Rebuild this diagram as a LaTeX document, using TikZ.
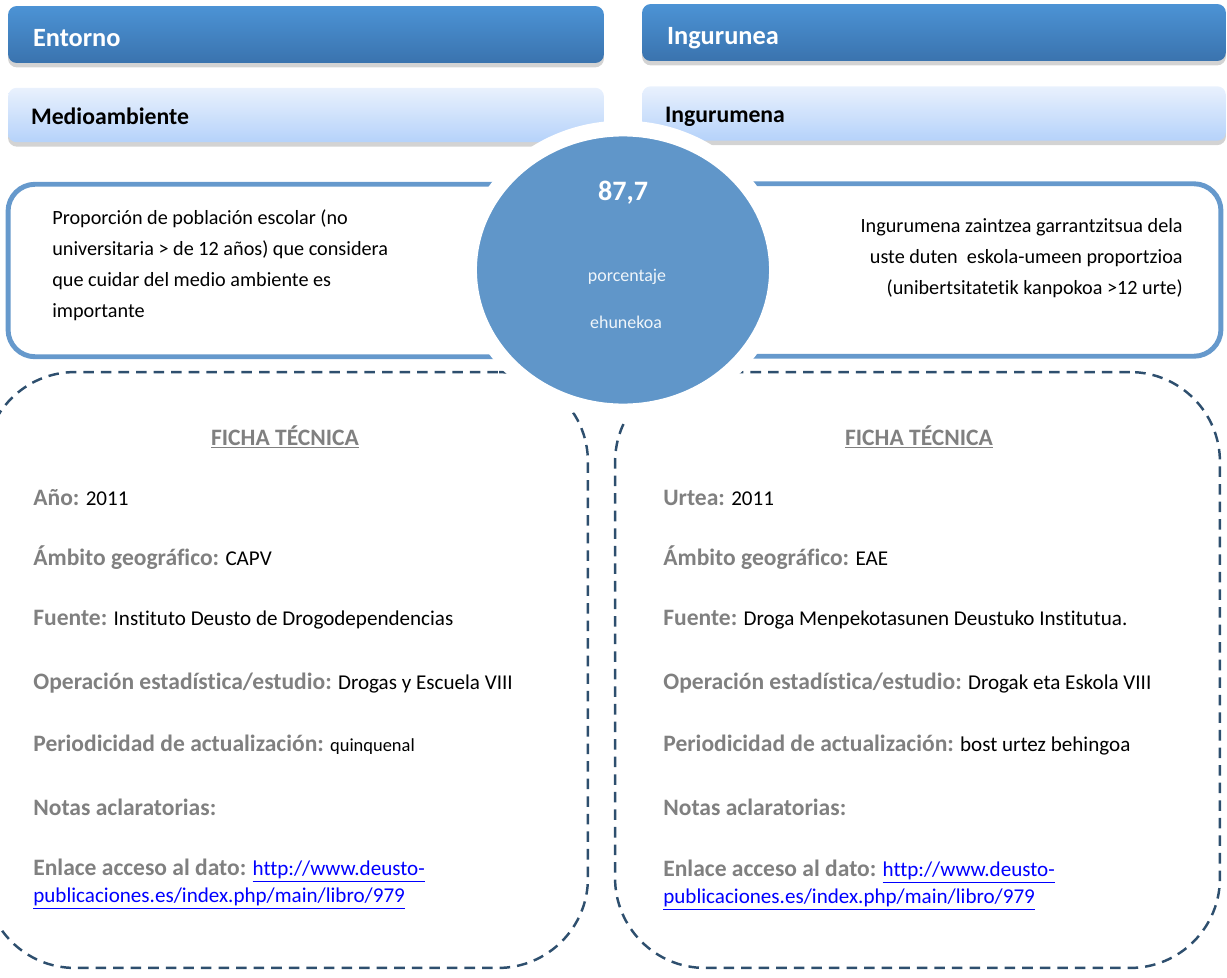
\documentclass[tikz,border=0pt]{standalone}
\usepackage{fontspec}
\setmainfont{Carlito}[Ligatures={NoCommon}, RawFeature={-liga;-clig;-calt;-dlig}]
\usetikzlibrary{shapes.geometric,shadows}

\definecolor{hdrtop}{RGB}{76,147,213}
\definecolor{hdrbot}{RGB}{58,115,174}
\definecolor{subtop}{RGB}{233,241,253}
\definecolor{subbot}{RGB}{181,210,250}
\definecolor{framblue}{RGB}{102,153,204}
\definecolor{circblue}{RGB}{96,150,201}
\definecolor{dashblue}{RGB}{46,79,110}
\definecolor{labgrey}{RGB}{128,128,128}
\definecolor{lnkblue}{RGB}{0,0,255}

\newcommand{\lab}[1]{{\bfseries\fontsize{13.4}{16}\selectfont\color{labgrey}#1}}
\newcommand{\lnk}[1]{\textcolor{lnkblue}{\underline{#1}}}

\begin{document}
\begin{tikzpicture}[x=0.02cm, y=-0.02cm,
    hdrbox/.style={rectangle, rounded corners=5pt, top color=hdrtop,
                   bottom color=hdrbot, minimum height=1.14cm,
                   inner xsep=0.5cm, align=left, text=white,
                   text height=14pt, text depth=0pt,
                   font=\bfseries\fontsize{15}{18}\selectfont,
                   drop shadow={shadow xshift=0pt, shadow yshift=-2.5pt, opacity=0.35}},
    subbox/.style={rectangle, rounded corners=5pt, top color=subtop,
                   bottom color=subbot, minimum height=1.09cm,
                   inner xsep=0.46cm, align=left, text=black,
                   text height=13.4pt, text depth=3pt,
                   font=\bfseries\fontsize{13.5}{16}\selectfont,
                   drop shadow={shadow xshift=0pt, shadow yshift=-2.5pt, opacity=0.35}},
    framebox/.style={rectangle, draw=framblue, line width=2.8pt,
                     rounded corners=0.54cm, fill=white, minimum height=3.45cm},
    dashbox/.style={rectangle, draw=dashblue, line width=1.4pt,
                    dash pattern=on 6pt off 4pt, rounded corners=1.8cm,
                    minimum height=11.92cm},
    desc/.style={inner sep=0, font=\fontsize{11.5}{17.6}\selectfont},
    fichaitem/.style={anchor=west, inner sep=0, font=\fontsize{12}{15.5}\selectfont}]

  \useasboundingbox (0,0) rectangle (1227,977);

  % cabeceras
  \node[hdrbox, text width=10.92cm] (entorno) at (306,34.5) {Entorno};
  \node[hdrbox, text width=10.68cm] (ingurunea) at (934,32.5) {Ingurunea};
  \node[subbox, text width=11.0cm] (medio) at (306,115) {Medioambiente};
  \node[subbox, text width=10.76cm] (ingurumena) at (934,113.5) {Ingurumena};

  % indicador
  \node[framebox, minimum width=11.84cm] (indL) at (304,270.5) {};
  \node[framebox, minimum width=11.62cm] (indR) at (930.5,270) {};
  \node[desc, anchor=west, align=left] (descL) at (52,265)
    {Proporción de población escolar (no\\
     universitaria > de 12 años) que considera\\
     que cuidar del medio ambiente es\\
     importante};
  \node[desc, anchor=east, align=right] (descR) at (1183,258)
    {Ingurumena zaintzea garrantzitsua dela\\
     uste duten\ \ eskola-umeen proportzioa\\
     (unibertsitatetik kanpokoa >12 urte)};

  % fichas
  \node[dashbox, minimum width=12.06cm] (fichaL) at (286.5,670) {};
  \node[dashbox, minimum width=12.1cm] (fichaR) at (917.5,670) {};

  % dato
  \node[ellipse, fill=circblue, draw=white, line width=9pt, inner sep=0,
        minimum width=6.16cm, minimum height=5.66cm] (dato) at (623,270) {};
  \node[text=white, font=\bfseries\fontsize{16}{19}\selectfont] (valor) at (623,193) {87,7};
  \node[text=white!90!circblue, font=\fontsize{10.2}{12}\selectfont] (unidadES) at (627,277) {porcentaje};
  \node[text=white!90!circblue, font=\fontsize{10.2}{12}\selectfont] (unidadEU) at (626,322) {ehunekoa};

  \node[inner sep=0] (tituloL) at (285,437) {\lab{\underline{FICHA TÉCNICA}}};
  \node[inner sep=0] (tituloR) at (919,437) {\lab{\underline{FICHA TÉCNICA}}};

  \foreach \y/\l/\v in {498/Año/2011, 558/Ámbito geográfico/CAPV,
      620/Fuente/Instituto Deusto de Drogodependencias,
      683/{Operación estadística/estudio}/Drogas y Escuela VIII,
      745/Periodicidad de actualización/{\fontsize{10.5}{13}\selectfont quinquenal},
      807/Notas aclaratorias/{}}
    \node[fichaitem] (filaL-\y) at (33,\y) {\lab{\l:} \v};

  \foreach \y/\l/\v in {498/Urtea/2011, 558/Ámbito geográfico/EAE,
      620/Fuente/Droga Menpekotasunen Deustuko Institutua.,
      683/{Operación estadística/estudio}/Drogak eta Eskola VIII,
      745/Periodicidad de actualización/bost urtez behingoa,
      807/Notas aclaratorias/{}}
    \node[fichaitem] (filaR-\y) at (663,\y) {\lab{\l:} \v};

  \node[fichaitem, align=left] (enlaceL) at (33,884)
    {\lab{Enlace acceso al dato:} \lnk{http://www.deusto-}\\
     \lnk{publicaciones.es/index.php/main/libro/979}};
  \node[fichaitem, align=left] (enlaceR) at (663,885)
    {\lab{Enlace acceso al dato:} \lnk{http://www.deusto-}\\
     \lnk{publicaciones.es/index.php/main/libro/979}};
\end{tikzpicture}
\end{document}
